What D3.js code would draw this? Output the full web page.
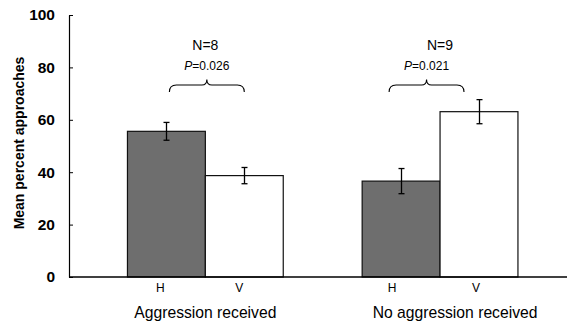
<!DOCTYPE html>
<html>
<head>
<meta charset="utf-8">
<script src="https://cdn.jsdelivr.net/npm/d3@7"></script>
<style>
  body { margin: 0; background: #fff; }
  text { font-family: Arial, "Liberation Sans", sans-serif; }
</style>
</head>
<body>
<div id="chart"></div>
<script>
// data
const groups = ["Aggression received", "No aggression received"];
const conditions = ["H", "V"];
const means = [[55.6, 38.7], [36.6, 63.1]];
const errors = [[3.4, 3.1], [4.8, 4.6]];
const sampleSizes = ["N=8", "N=9"];
const pValues = ["0.026", "0.021"];
const yTicks = [0, 20, 40, 60, 80, 100];

const width = 568, height = 325,
    marginLeft = 69, marginTop = 15, marginBottom = 48, axisRight = 567;

const svg = d3.select("#chart").append("svg")
    .attr("width", width)
    .attr("height", height)
    .attr("viewBox", [0, 0, width, height]);

const y = d3.scaleLinear([0, 100], [height - marginBottom, marginTop]);
const x0 = d3.scaleBand(groups, [88, 557.4]).paddingInner(0).paddingOuter(0);
const x1 = d3.scaleBand(conditions, [x0.bandwidth() * 0.1681, x0.bandwidth() * 0.8319]);
const fills = { H: "#6e6e6e", V: "#ffffff" };

const rows = groups.flatMap((g, gi) => conditions.map((c, ci) => ({
    group: g, cond: c, value: means[gi][ci], err: errors[gi][ci]
})));

// bars
svg.append("g")
    .selectAll("rect")
    .data(rows)
    .join("rect")
    .attr("x", d => x0(d.group) + x1(d.cond))
    .attr("y", d => y(d.value))
    .attr("width", x1.bandwidth())
    .attr("height", d => y(0) - y(d.value))
    .attr("fill", d => fills[d.cond])
    .attr("stroke", "#111")
    .attr("stroke-width", 1.2);

// error bars
const eb = svg.append("g").attr("stroke", "#000").attr("stroke-width", 1.3);
rows.forEach(d => {
    const cx = Math.round(x0(d.group) + x1(d.cond) + x1.bandwidth() / 2) + 0.5;
    eb.append("line").attr("x1", cx).attr("x2", cx).attr("y1", y(d.value + d.err)).attr("y2", y(d.value - d.err));
    eb.append("line").attr("x1", cx - 3).attr("x2", cx + 3).attr("y1", y(d.value + d.err)).attr("y2", y(d.value + d.err));
    eb.append("line").attr("x1", cx - 3).attr("x2", cx + 3).attr("y1", y(d.value - d.err)).attr("y2", y(d.value - d.err));
});

// y axis
svg.append("g")
    .attr("transform", `translate(${marginLeft},0)`)
    .call(d3.axisLeft(y).tickValues(yTicks).tickSizeInner(-4).tickSizeOuter(0).tickPadding(14))
    .call(g => g.select(".domain").attr("stroke", "#000").attr("stroke-width", 1.2))
    .call(g => g.selectAll(".tick line").attr("stroke", "#000"))
    .call(g => g.selectAll(".tick text")
        .attr("font-size", 15.5).attr("font-weight", "bold").attr("fill", "#000"));

// x axis line
svg.append("line")
    .attr("x1", marginLeft).attr("x2", axisRight)
    .attr("y1", y(0)).attr("y2", y(0))
    .attr("stroke", "#000").attr("stroke-width", 1.4);

// condition labels (sit a little left of the bar centres in the original)
const condLabelShift = [-6, -5, -9, -3];
svg.append("g")
    .attr("font-size", 12)
    .attr("text-anchor", "middle")
    .selectAll("text")
    .data(rows)
    .join("text")
    .attr("x", (d, i) => x0(d.group) + x1(d.cond) + x1.bandwidth() / 2 + condLabelShift[i])
    .attr("y", y(0) + 15)
    .text(d => d.cond);

// group labels
const groupLabelShift = [0, 15];
svg.append("g")
    .attr("font-size", 15.7)
    .attr("text-anchor", "middle")
    .selectAll("text")
    .data(groups)
    .join("text")
    .attr("x", (d, i) => x0(d) + x0.bandwidth() / 2 + groupLabelShift[i])
    .attr("y", y(0) + 41)
    .text(d => d);

// y axis title
svg.append("text")
    .attr("transform", `translate(24,${(y(0) + y(100)) / 2 - 3}) rotate(-90)`)
    .attr("text-anchor", "middle")
    .attr("font-size", 14)
    .attr("font-weight", "bold")
    .text("Mean percent approaches");

// N labels
svg.append("g")
    .attr("font-size", 14)
    .attr("text-anchor", "middle")
    .selectAll("text")
    .data(groups)
    .join("text")
    .attr("x", d => x0(d) + x0.bandwidth() / 2)
    .attr("y", 50)
    .text((d, i) => sampleSizes[i]);

// brace + P value annotations, offset per group
const braceShift = [0, -15];
groups.forEach((g, i) => {
    const left = x0(g) + x1("H") + x1.bandwidth() / 2 + braceShift[i] + 3;
    const right = x0(g) + x1("V") + x1.bandwidth() / 2 + braceShift[i];
    const mid = (left + right) / 2;
    const yb = 85, ye = 92, yp = 79.5, r = 5;
    svg.append("path")
        .attr("fill", "none")
        .attr("stroke", "#000")
        .attr("stroke-width", 1.1)
        .attr("d", `M${left},${ye} Q${left},${yb} ${left + r + 2},${yb}
                    L${mid - r},${yb} Q${mid},${yb} ${mid},${yp}
                    Q${mid},${yb} ${mid + r},${yb}
                    L${right - r - 2},${yb} Q${right},${yb} ${right},${ye}`);
    const t = svg.append("text")
        .attr("x", mid)
        .attr("y", 70)
        .attr("font-size", 12)
        .attr("text-anchor", "middle");
    t.append("tspan").attr("font-style", "italic").text("P");
    t.append("tspan").text("=" + pValues[i]);
});
</script>
</body>
</html>
